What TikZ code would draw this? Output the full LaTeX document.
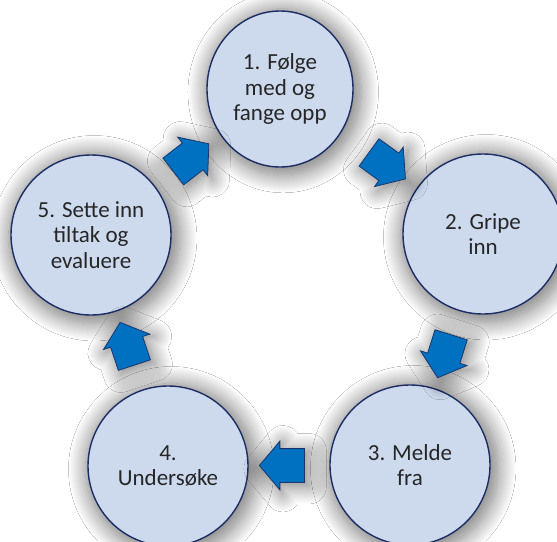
\documentclass[tikz,border=0pt]{standalone}
\usepackage{fontspec}
\setmainfont{Carlito}
\usetikzlibrary{calc,shapes.arrows,shapes.geometric,shadows.blur}
\definecolor{stepfill}{RGB}{205,218,238}
\definecolor{stepline}{RGB}{28,45,100}
\definecolor{arrowfill}{RGB}{0,112,192}
\definecolor{arrowline}{RGB}{25,55,110}
\tikzset{
	glow/.style={blur shadow={shadow xshift=3pt, shadow yshift=-3pt, shadow scale=1.07, shadow blur radius=16pt, shadow blur steps=18, shadow opacity=52}},
	stepnode/.style={circle, draw=stepline, line width=1.4pt, fill=stepfill, minimum size=160pt, inner sep=0pt, align=center, text=black!85, font=\fontsize{23}{25.5}\selectfont, glow},
	turnarrow/.style={single arrow, draw=arrowline, line width=0.8pt, fill=arrowfill, minimum height=45pt, inner xsep=0pt, inner ysep=16.5pt, single arrow head extend=7.5pt, single arrow tip angle=100, glow},
}

\begin{document}
\begin{tikzpicture}[x=1pt, y=-1pt]
		%%%%% START %%%%%
		
		\clip (0, 0) rectangle (557, 541);
		\fill[white] (0, 0) rectangle (557, 541);
		
		\node[stepnode, ellipse, minimum width=146pt, minimum height=156pt] (folge) at (280, 89) {1. Følge\\med og\\fange opp};
		\node[stepnode] (gripe) at (483, 234) {2. Gripe\\inn};
		\node[stepnode] (melde) at (410, 465) {3. Melde\\fra};
		\node[stepnode] (undersoke) at (168, 466) {4.\\Undersøke};
		\node[stepnode] (tiltak) at (91, 235) {5. Sette inn\\tiltak og\\evaluere};
		
		\node[turnarrow, rotate=-36] (a12) at ($(folge)!0.5!(gripe)$) {};
		\node[turnarrow, rotate=-107.5] (a23) at ($(gripe)!0.5!(melde)$) {};
		\node[turnarrow, rotate=180] (a34) at ($(melde)!0.5!(undersoke)$) {};
		\node[turnarrow, rotate=108.4] (a45) at ($(undersoke)!0.5!(tiltak)$) {};
		\node[turnarrow, rotate=37.9] (a51) at ($(tiltak)!0.5!(folge)$) {};
		
		%%%%% END %%%%%
	\end{tikzpicture}
\end{document}
